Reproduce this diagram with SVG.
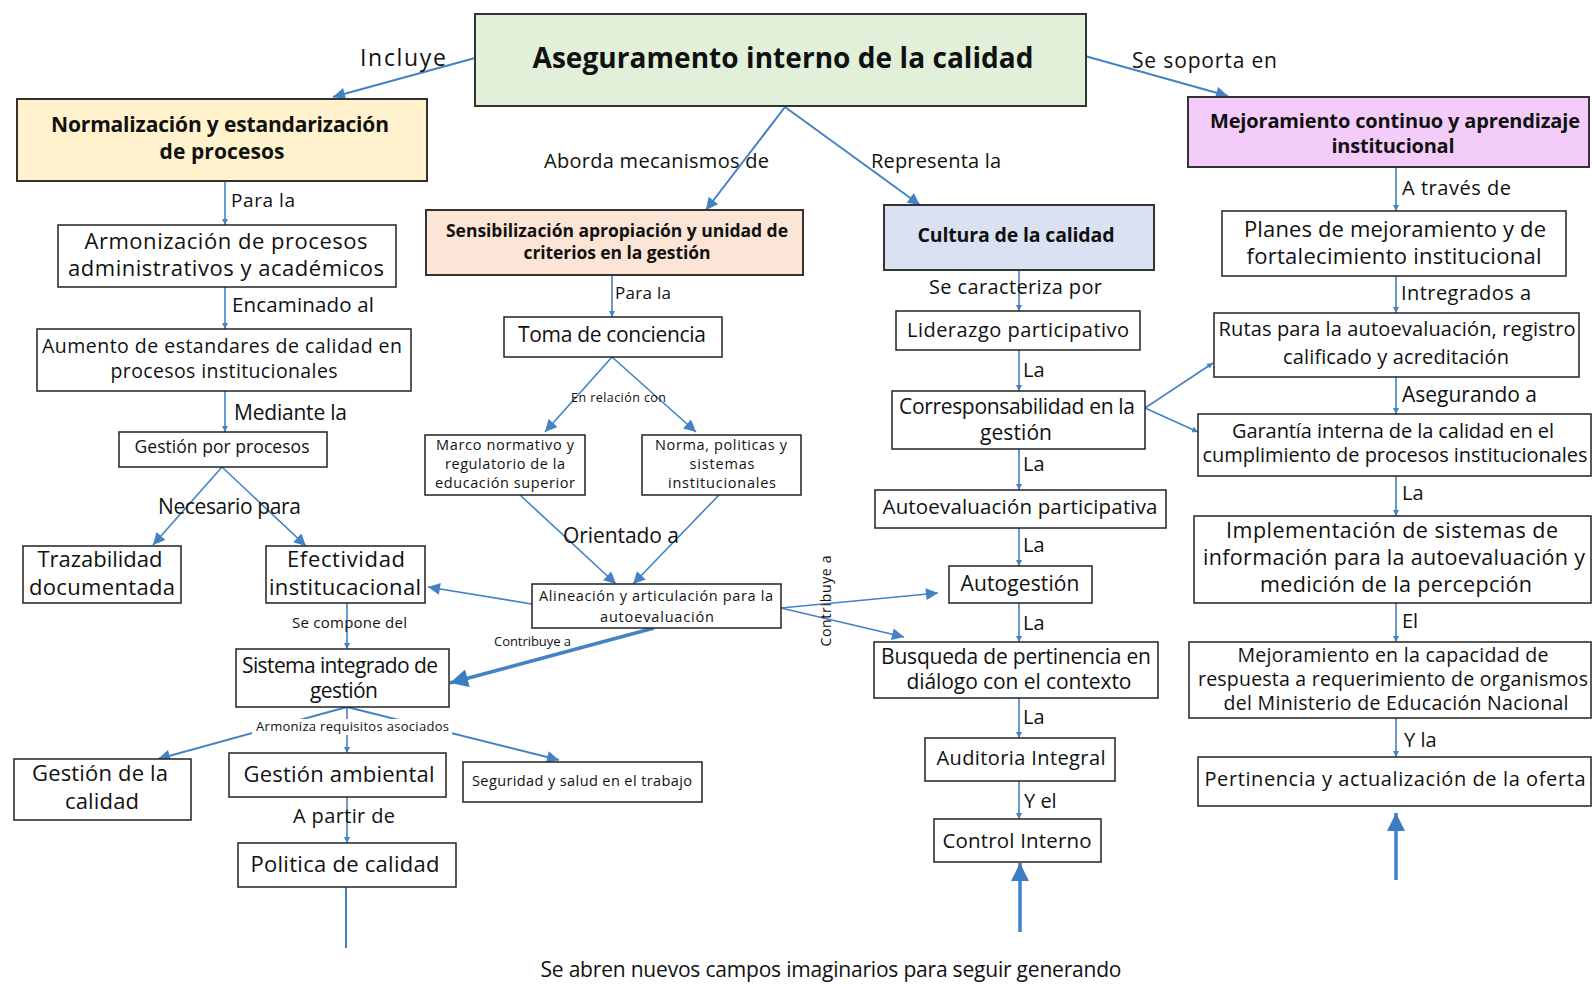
<svg xmlns="http://www.w3.org/2000/svg" width="1592" height="984" viewBox="0 0 1592 984">
<style>
.bx{fill:#fff;stroke:#222;stroke-width:1.5}
.hb{stroke:#333;stroke-width:2}
.t{font-family:"Open Sans",Lato,"Liberation Sans",sans-serif;fill:#111;text-anchor:middle}
.b{font-weight:bold}
.l{font-family:"Open Sans",Lato,"Liberation Sans",sans-serif;fill:#111}
.c{stroke:#4382C4;fill:none;stroke-width:1.6}
.cm{stroke:#4382C4;fill:none;stroke-width:2}
.ck{stroke:#4382C4;fill:none;stroke-width:3.5}
</style>
<defs>
<marker id="as" viewBox="0 0 10 10" refX="10" refY="5" markerWidth="6" markerHeight="6" markerUnits="userSpaceOnUse" orient="auto"><path d="M0,0 L10,5 L0,10 z" fill="#4382C4"/></marker>
<marker id="am" viewBox="0 0 10 10" refX="10" refY="5" markerWidth="13" markerHeight="12" markerUnits="userSpaceOnUse" orient="auto"><path d="M0,0 L10,5 L0,10 z" fill="#4382C4"/></marker>
<marker id="al" viewBox="0 0 10 10" refX="10" refY="5" markerWidth="22" markerHeight="18" markerUnits="userSpaceOnUse" orient="auto"><path d="M0,0 L10,5 L0,10 z" fill="#3D7CC2"/></marker>
</defs>
<rect width="1592" height="984" fill="#fff"/>

<g id="connectors">
<path class="cm" d="M475,58 L333,97" marker-end="url(#am)"/>
<path class="cm" d="M785,107 L706,210" marker-end="url(#am)"/>
<path class="cm" d="M785,107 L920,205" marker-end="url(#am)"/>
<path class="cm" d="M1085,56 L1228,96" marker-end="url(#am)"/>
<path class="c" d="M225,181 V225" marker-end="url(#as)"/>
<path class="c" d="M225,287 V329" marker-end="url(#as)"/>
<path class="c" d="M225,391 V432" marker-end="url(#as)"/>
<path class="c" d="M222,467 L153,545" marker-end="url(#am)"/>
<path class="c" d="M222,467 L306,546" marker-end="url(#am)"/>
<path class="c" d="M532,604 L428,587" marker-end="url(#am)"/>
<path class="c" d="M347,603 V649" marker-end="url(#as)"/>
<path class="ck" d="M654,628 L450,683" marker-end="url(#al)"/>
<path class="cm" d="M347,707 L158,759" marker-end="url(#am)"/>
<path class="c" d="M347,707 V753" marker-end="url(#as)"/>
<path class="cm" d="M347,707 L559,760" marker-end="url(#am)"/>
<path class="c" d="M347,797 V843" marker-end="url(#as)"/>
<path class="cm" d="M346,887 V948"/>
<path class="c" d="M612,275 V317" marker-end="url(#as)"/>
<path class="c" d="M612,357 L545,432" marker-end="url(#am)"/>
<path class="c" d="M612,357 L696,432" marker-end="url(#am)"/>
<path class="c" d="M520,495 L616,584" marker-end="url(#am)"/>
<path class="c" d="M719,495 L633,584" marker-end="url(#am)"/>
<path class="c" d="M781,608 L938,593" marker-end="url(#am)"/>
<path class="c" d="M781,608 L904,637" marker-end="url(#am)"/>
<path class="c" d="M1019,270 V311" marker-end="url(#as)"/>
<path class="c" d="M1019,350 V391" marker-end="url(#as)"/>
<path class="c" d="M1019,449 V490" marker-end="url(#as)"/>
<path class="c" d="M1019,528 V566" marker-end="url(#as)"/>
<path class="c" d="M1019,603 V642" marker-end="url(#as)"/>
<path class="c" d="M1019,698 V738" marker-end="url(#as)"/>
<path class="c" d="M1019,781 V819" marker-end="url(#as)"/>
<path class="c" stroke-width="1.2" d="M1145,408 L1213,363" marker-end="url(#as)"/>
<path class="c" stroke-width="1.2" d="M1145,408 L1198,432" marker-end="url(#as)"/>
<path class="ck" d="M1020,932 V863" marker-end="url(#al)"/>
<path class="ck" d="M1396,880 V813" marker-end="url(#al)"/>
<path class="c" d="M1396,167 V211" marker-end="url(#as)"/>
<path class="c" d="M1396,276 V313" marker-end="url(#as)"/>
<path class="c" d="M1396,377 V414" marker-end="url(#as)"/>
<path class="c" d="M1396,476 V516" marker-end="url(#as)"/>
<path class="c" d="M1396,603 V642" marker-end="url(#as)"/>
<path class="c" d="M1396,718 V757" marker-end="url(#as)"/>
</g>

<g id="labels">
<text class="l" x="360" y="66" font-size="23" textLength="86">Incluye</text>
<text class="l" x="544" y="168" font-size="20" textLength="225">Aborda mecanismos de</text>
<text class="l" x="871" y="168" font-size="20" textLength="130">Representa la</text>
<text class="l" x="1132" y="68" font-size="21" textLength="145">Se soporta en</text>
<text class="l" x="231" y="207" font-size="19" textLength="64">Para la</text>
<text class="l" x="232" y="312" font-size="20.5" textLength="142">Encaminado al</text>
<text class="l" x="234" y="420" font-size="21" textLength="113">Mediante la</text>
<text class="l" x="158" y="514" font-size="21" textLength="143">Necesario para</text>
<text class="l" x="292" y="628" font-size="15" textLength="115">Se compone del</text>
<text class="l" x="494" y="646" font-size="13" textLength="77">Contribuye a</text>
<rect x="252" y="719" width="200" height="16" fill="#fff"/>
<text class="l" x="256" y="731" font-size="13" textLength="193">Armoniza requisitos asociados</text>
<text class="l" x="293" y="823" font-size="20" textLength="102">A partir de</text>
<text class="l" x="615" y="299" font-size="17" textLength="56">Para la</text>
<text class="l" x="571" y="402" font-size="12.5" textLength="95">En relación con</text>
<text class="l" x="563" y="543" font-size="21" textLength="116">Orientado a</text>
<text class="l" font-size="14" text-anchor="middle" textLength="91" transform="translate(831,601) rotate(-90)">Contribuye a</text>
<text class="l" x="929" y="294" font-size="20" textLength="173">Se caracteriza por</text>
<text class="l" x="1023" y="377" font-size="20">La</text>
<text class="l" x="1023" y="471" font-size="20">La</text>
<text class="l" x="1023" y="552" font-size="20">La</text>
<text class="l" x="1023" y="630" font-size="20">La</text>
<text class="l" x="1023" y="724" font-size="20">La</text>
<text class="l" x="1024" y="808" font-size="20">Y el</text>
<text class="l" x="1402" y="195" font-size="20" textLength="109">A través de</text>
<text class="l" x="1401" y="300" font-size="20" textLength="130">Intregrados a</text>
<text class="l" x="1402" y="402" font-size="21" textLength="135">Asegurando a</text>
<text class="l" x="1402" y="500" font-size="20">La</text>
<text class="l" x="1402" y="628" font-size="20">El</text>
<text class="l" x="1404" y="747" font-size="20">Y la</text>
<text class="t" x="831" y="977" font-size="21" textLength="581">Se abren nuevos campos imaginarios para seguir generando</text>
</g>

<g id="n-main"><rect x="475" y="14" width="611" height="92" fill="#E2F0D9" class="hb"/><text class="t b" x="783" y="68" font-size="28" textLength="501">Aseguramento interno de la calidad</text></g>
<g id="n-normalizacion"><rect x="17" y="99" width="410" height="82" fill="#FFF2CC" class="hb"/><text class="t b" x="220" y="132" font-size="21" textLength="338">Normalización y estandarización</text><text class="t b" x="222" y="159" font-size="21" textLength="125">de procesos</text></g>
<g id="n-sensibilizacion"><rect x="426" y="210" width="377" height="65" fill="#FCE4D6" class="hb"/><text class="t b" x="617" y="237" font-size="17.5" textLength="342">Sensibilización apropiación y unidad de</text><text class="t b" x="617" y="259" font-size="17.5" textLength="187">criterios en la gestión</text></g>
<g id="n-cultura"><rect x="884" y="205" width="270" height="65" fill="#D9E1F2" class="hb"/><text class="t b" x="1016" y="242" font-size="19.5" textLength="197">Cultura de la calidad</text></g>
<g id="n-mejoramiento"><rect x="1188" y="97" width="401" height="70" fill="#F4CCFA" class="hb"/><text class="t b" x="1395" y="128" font-size="20" textLength="370">Mejoramiento continuo y aprendizaje</text><text class="t b" x="1393" y="153" font-size="20" textLength="123">institucional</text></g>

<g id="n-armonizacion"><rect class="bx" x="58" y="225" width="338" height="62"/><text class="t" x="226" y="249" font-size="22" textLength="283">Armonización de procesos</text><text class="t" x="226" y="276" font-size="22" textLength="316">administrativos y académicos</text></g>
<g id="n-aumento"><rect class="bx" x="37" y="329" width="374" height="62"/><text class="t" x="222" y="353" font-size="19.5" textLength="360">Aumento de estandares de calidad en</text><text class="t" x="224" y="378" font-size="19.5" textLength="227">procesos institucionales</text></g>
<g id="n-gestion-procesos"><rect class="bx" x="119" y="432" width="208" height="35"/><text class="t" x="222" y="453" font-size="17.5" textLength="175">Gestión por procesos</text></g>
<g id="n-trazabilidad"><rect class="bx" x="23" y="546" width="158" height="57"/><text class="t" x="100" y="567" font-size="22" textLength="125">Trazabilidad</text><text class="t" x="102" y="595" font-size="22" textLength="146">documentada</text></g>
<g id="n-efectividad"><rect class="bx" x="266" y="546" width="159" height="57"/><text class="t" x="346" y="567" font-size="22" textLength="118">Efectividad</text><text class="t" x="345" y="595" font-size="22" textLength="152">institucacional</text></g>
<g id="n-sistema"><rect class="bx" x="236" y="649" width="213" height="58"/><text class="t" x="340" y="673" font-size="21" textLength="196">Sistema integrado de</text><text class="t" x="344" y="698" font-size="21" textLength="68">gestión</text></g>
<g id="n-gestion-calidad"><rect class="bx" x="14" y="759" width="177" height="61"/><text class="t" x="100" y="781" font-size="22" textLength="136">Gestión de la</text><text class="t" x="102" y="809" font-size="22" textLength="74">calidad</text></g>
<g id="n-gestion-ambiental"><rect class="bx" x="229" y="753" width="217" height="44"/><text class="t" x="339" y="782" font-size="22" textLength="191">Gestión ambiental</text></g>
<g id="n-seguridad"><rect class="bx" x="463" y="762" width="239" height="40"/><text class="t" x="582" y="786" font-size="14.5" textLength="220">Seguridad y salud en el trabajo</text></g>
<g id="n-politica"><rect class="bx" x="238" y="843" width="218" height="44"/><text class="t" x="345" y="872" font-size="22" textLength="189">Politica de calidad</text></g>

<g id="n-toma"><rect class="bx" x="504" y="317" width="218" height="40"/><text class="t" x="612" y="342" font-size="21" textLength="188">Toma de conciencia</text></g>
<g id="n-marco"><rect class="bx" x="425" y="435" width="160" height="60"/><text class="t" x="505" y="450" font-size="14.5" textLength="138">Marco normativo y</text><text class="t" x="505" y="469" font-size="14.5" textLength="120">regulatorio de la</text><text class="t" x="505" y="488" font-size="14.5" textLength="140">educación superior</text></g>
<g id="n-norma"><rect class="bx" x="642" y="435" width="159" height="60"/><text class="t" x="721" y="450" font-size="14.5" textLength="132">Norma, politicas y</text><text class="t" x="722" y="469" font-size="14.5" textLength="65">sistemas</text><text class="t" x="722" y="488" font-size="14.5" textLength="108">institucionales</text></g>
<g id="n-alineacion"><rect class="bx" x="532" y="584" width="249" height="44"/><text class="t" x="656" y="601" font-size="14.5" textLength="234">Alineación y articulación para la</text><text class="t" x="657" y="622" font-size="14.5" textLength="114">autoevaluación</text></g>

<g id="n-liderazgo"><rect class="bx" x="896" y="311" width="244" height="39"/><text class="t" x="1018" y="337" font-size="20" textLength="222">Liderazgo participativo</text></g>
<g id="n-corresponsabilidad"><rect class="bx" x="892" y="391" width="253" height="58"/><text class="t" x="1017" y="414" font-size="21" textLength="236">Corresponsabilidad en la</text><text class="t" x="1016" y="440" font-size="21" textLength="72">gestión</text></g>
<g id="n-autoevaluacion"><rect class="bx" x="875" y="490" width="291" height="38"/><text class="t" x="1020" y="514" font-size="20.5" textLength="275">Autoevaluación participativa</text></g>
<g id="n-autogestion"><rect class="bx" x="949" y="566" width="143" height="37"/><text class="t" x="1020" y="591" font-size="21" textLength="119">Autogestión</text></g>
<g id="n-busqueda"><rect class="bx" x="874" y="642" width="284" height="56"/><text class="t" x="1016" y="664" font-size="21" textLength="270">Busqueda de pertinencia en</text><text class="t" x="1019" y="689" font-size="21" textLength="225">diálogo con el contexto</text></g>
<g id="n-auditoria"><rect class="bx" stroke-width="2" x="925" y="738" width="190" height="43"/><text class="t" x="1021" y="765" font-size="20" textLength="169">Auditoria Integral</text></g>
<g id="n-control"><rect class="bx" x="934" y="819" width="167" height="43"/><text class="t" x="1017" y="848" font-size="20.5" textLength="149">Control Interno</text></g>

<g id="n-planes"><rect class="bx" x="1222" y="211" width="344" height="65"/><text class="t" x="1395" y="237" font-size="22" textLength="302">Planes de mejoramiento y de</text><text class="t" x="1394" y="264" font-size="22" textLength="295">fortalecimiento institucional</text></g>
<g id="n-rutas"><rect class="bx" x="1214" y="313" width="365" height="64"/><text class="t" x="1397" y="336" font-size="20" textLength="357">Rutas para la autoevaluación, registro</text><text class="t" x="1396" y="364" font-size="20" textLength="226">calificado y acreditación</text></g>
<g id="n-garantia"><rect class="bx" x="1198" y="414" width="393" height="62"/><text class="t" x="1393" y="438" font-size="20" textLength="322">Garantía interna de la calidad en el</text><text class="t" x="1395" y="462" font-size="20" textLength="385">cumplimiento de procesos institucionales</text></g>
<g id="n-implementacion"><rect class="bx" x="1194" y="516" width="397" height="87"/><text class="t" x="1392" y="538" font-size="21.5" textLength="332">Implementación de sistemas de</text><text class="t" x="1394" y="565" font-size="21.5" textLength="382">información para la autoevaluación y</text><text class="t" x="1396" y="592" font-size="21.5" textLength="272">medición de la percepción</text></g>
<g id="n-mejoramiento-capacidad"><rect class="bx" x="1189" y="642" width="402" height="76"/><text class="t" x="1393" y="662" font-size="19.5" textLength="311">Mejoramiento en la capacidad de</text><text class="t" x="1393" y="686" font-size="19.5" textLength="390">respuesta a requerimiento de organismos</text><text class="t" x="1396" y="710" font-size="19.5" textLength="345">del Ministerio de Educación Nacional</text></g>
<g id="n-pertinencia"><rect class="bx" x="1198" y="757" width="393" height="49"/><text class="t" x="1395" y="786" font-size="20" textLength="381">Pertinencia y actualización de la oferta</text></g>
</svg>
